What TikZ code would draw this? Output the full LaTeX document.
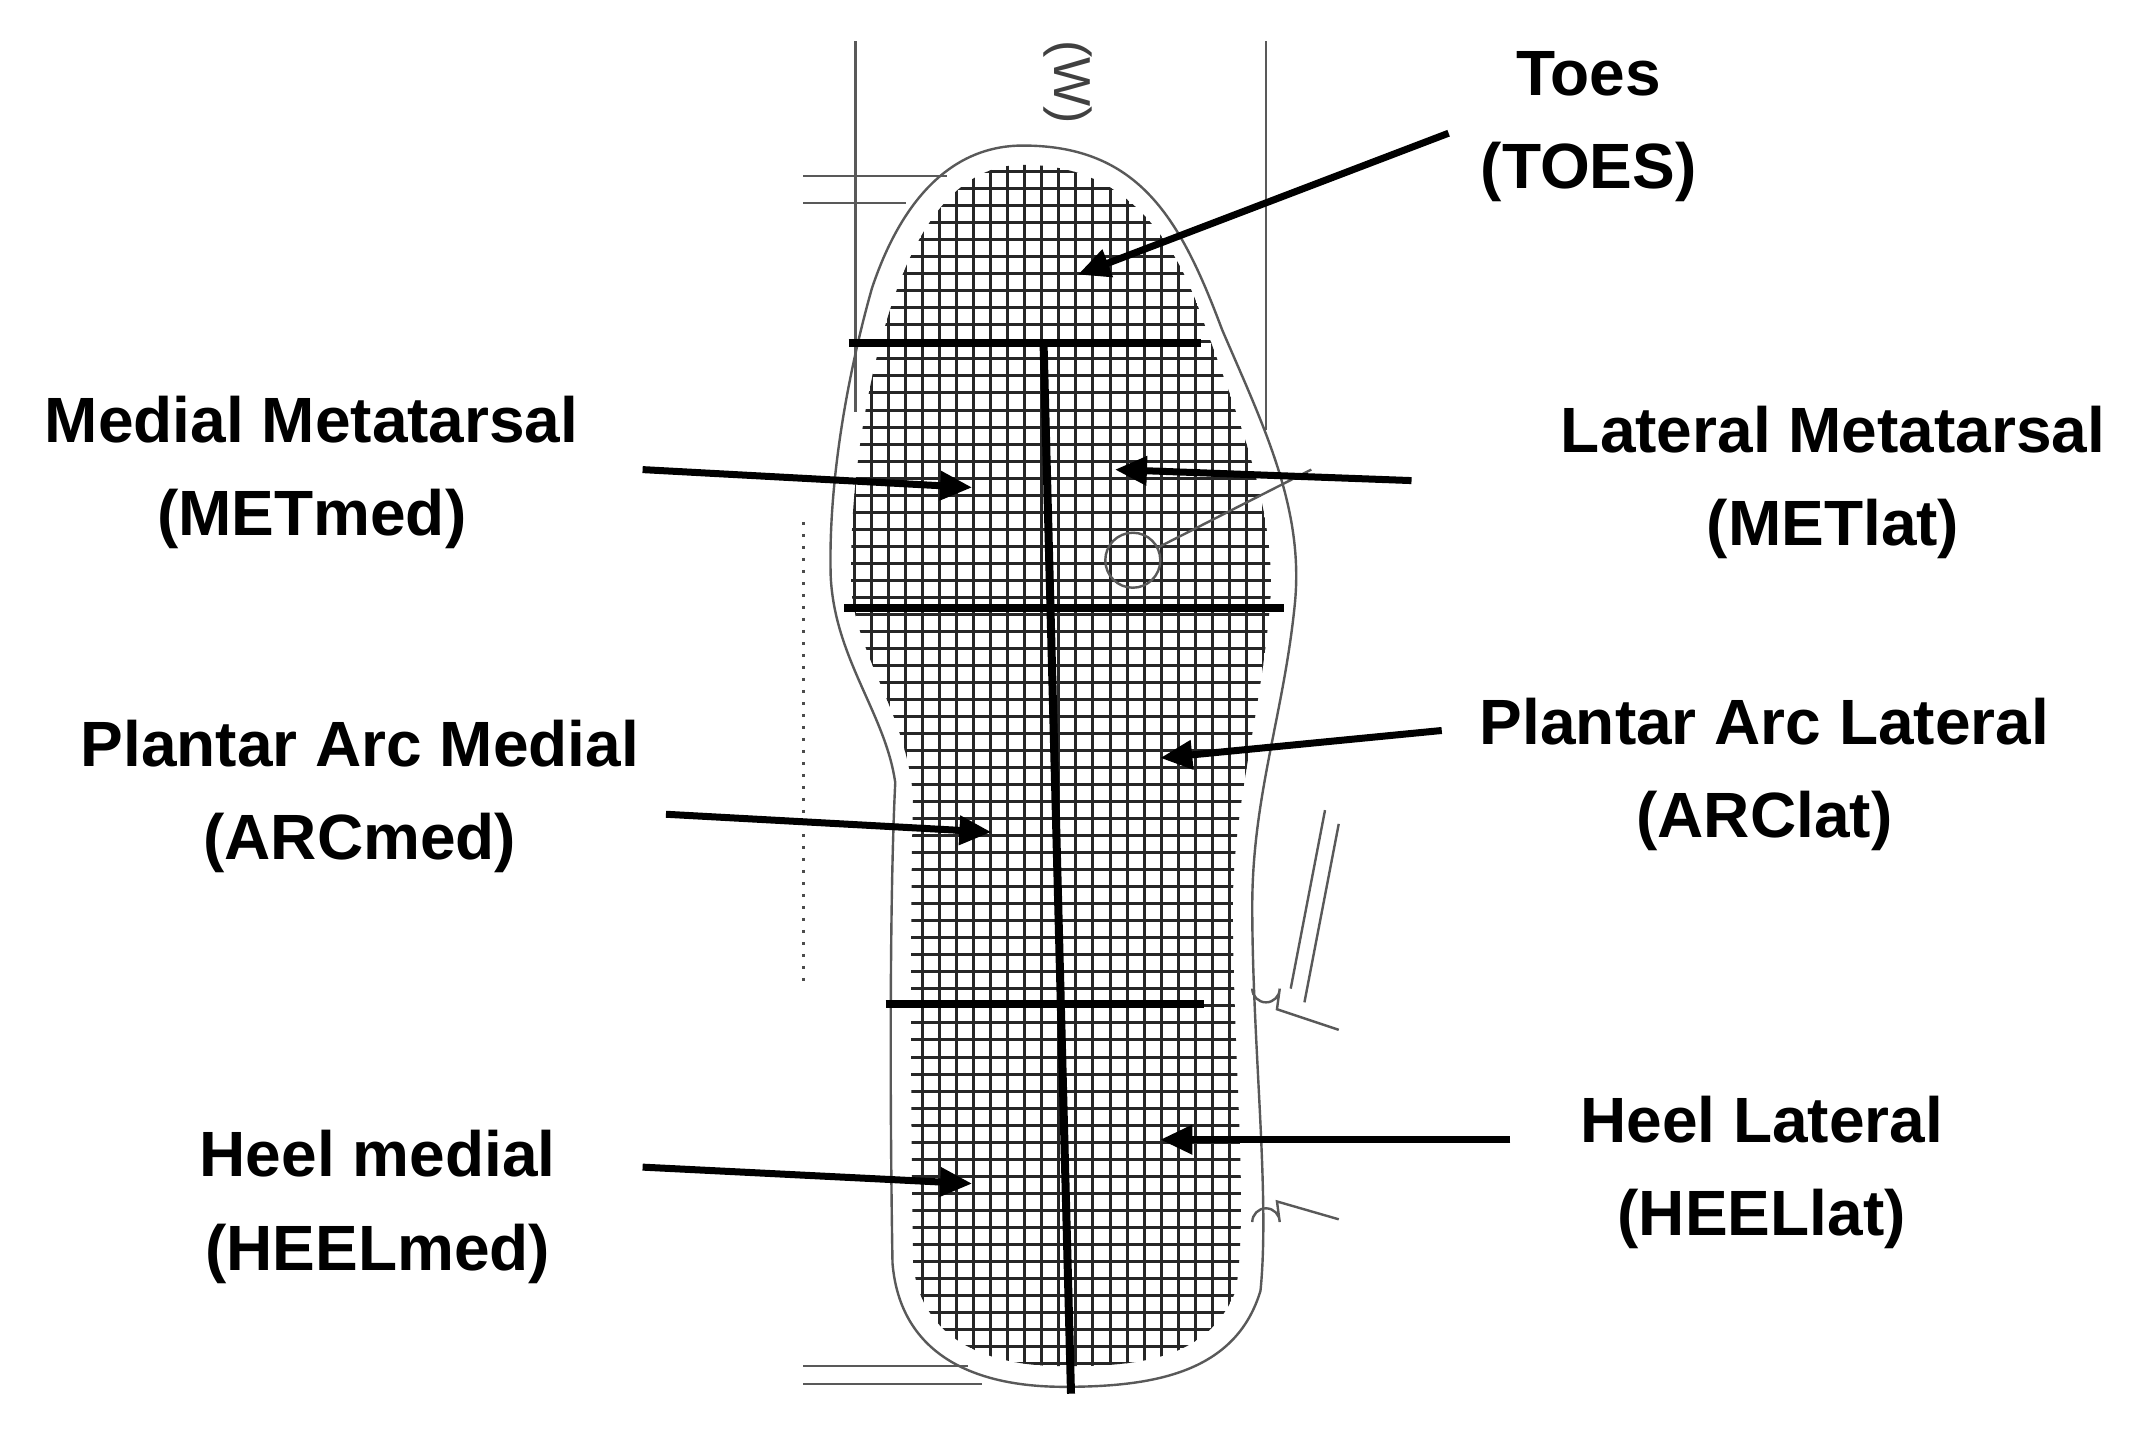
\documentclass[tikz,border=0pt]{standalone}
\usepackage{fontspec}
\setmainfont{Liberation Sans}
\usetikzlibrary{arrows.meta}
\begin{document}
\begin{tikzpicture}[x=1.373pt,y=-1.373pt,
  lbl/.style={font=\bfseries\fontsize{64}{93}\selectfont,align=center,inner sep=0},
  arr/.style={line width=7pt,-{Triangle[length=32pt,width=28pt]}},
  thin/.style={line width=2.4pt,draw=black!65},
  thick/.style={line width=8pt}]
\useasboundingbox (0,0) rectangle (1560,1040);
\fill[white] (0,0) rectangle (1560,1040);
% frame lines
\draw[thin] (623,30) -- (623,300);
\draw[thin] (922,30) -- (922,313);
\draw[thin] (585,128) -- (690,128);
\draw[thin] (585,148) -- (660,148);
\draw[thin] (585,995) -- (705,995);
\draw[thin] (585,1008) -- (715,1008);
\draw[line width=3pt,dash pattern=on 3pt off 9pt,draw=black!70] (585,380) -- (585,720);
\node[rotate=-90,font=\fontsize{52}{52}\selectfont,text=black!75] (w) at (778,60) {(W)};
% grid
\begin{scope}
\clip (745,120) .. controls (810,120) and (850,160) .. (875,230)
  .. controls (900,300) and (930,370) .. (925,440)
  .. controls (918,520) and (900,580) .. (898,650)
  .. controls (897,760) and (910,880) .. (900,940)
  .. controls (880,990) and (830,995) .. (775,995)
  .. controls (710,995) and (670,970) .. (665,920)
  .. controls (663,800) and (663,650) .. (665,580)
  .. controls (660,520) and (625,480) .. (620,430)
  .. controls (618,360) and (630,280) .. (650,220)
  .. controls (670,160) and (700,120) .. (745,120) -- cycle;
\foreach \i in {0,...,30} \draw[line width=3pt,black!85] (610+\i*12.4,100) -- (610+\i*12.4,1010);
\foreach \i in {0,...,75} \draw[line width=3pt,black!85] (600,125+\i*12.4) -- (950,125+\i*12.4);
\end{scope}
% outline
\draw[thin] (745,106) .. controls (830,106) and (860,160) .. (890,240)
  .. controls (920,310) and (950,370) .. (943,440)
  .. controls (935,520) and (912,580) .. (912,660)
  .. controls (912,760) and (925,870) .. (918,940)
  .. controls (900,1000) and (840,1010) .. (775,1010)
  .. controls (700,1010) and (655,980) .. (650,920)
  .. controls (648,800) and (648,650) .. (652,570)
  .. controls (645,520) and (608,480) .. (605,420)
  .. controls (603,350) and (618,270) .. (635,210)
  .. controls (655,150) and (690,106) .. (745,106) -- cycle;
% circle and features
\node[draw=black!65,line width=2.4pt,circle,minimum size=55,inner sep=0] (c) at (825,408) {};
\coordinate (ce) at (955,342);
\draw[thin] (c) -- (ce);
\draw[thin] (965,590) -- (940,720);
\draw[thin] (975,600) -- (950,730);
\draw[thin] (912,720) arc (180:0:10) -- (930,735) -- (975,750);
\draw[thin] (912,890) arc (180:360:10) -- (930,875) -- (975,888);
% thick dividers
\draw[thick] (618,250) -- (875,250);
\draw[thick] (615,443) -- (935,443);
\draw[thick] (645,731) -- (877,731);
\draw[thick] (760,250) -- (780,1015);
% labels
\node[lbl] (toes) at (1157,92) {Toes\\(TOES)};
\node[lbl] (mm) at (227,344) {Medial Metatarsal\\(METmed)};
\node[lbl] (ml) at (1335,351) {Lateral Metatarsal\\(METlat)};
\node[lbl] (am) at (262,580) {Plantar Arc Medial\\(ARCmed)};
\node[lbl] (al) at (1285,564) {Plantar Arc Lateral\\(ARClat)};
\node[lbl] (hm) at (275,879) {Heel medial\\(HEELmed)};
\node[lbl] (hl) at (1283,854) {Heel Lateral\\(HEELlat)};
% arrows
\coordinate (s1) at (1055,97); \coordinate (t1) at (785,200);
\coordinate (s2) at (468,342); \coordinate (t2) at (708,355);
\coordinate (s3) at (1028,350); \coordinate (t3) at (812,342);
\coordinate (s4) at (485,593); \coordinate (t4) at (722,606);
\coordinate (s5) at (1050,532); \coordinate (t5) at (845,552);
\coordinate (s6) at (468,850); \coordinate (t6) at (708,862);
\coordinate (s7) at (1100,830); \coordinate (t7) at (845,830);
\foreach \k in {1,...,7} \draw[arr] (s\k) -- (t\k);
\end{tikzpicture}
\end{document}
